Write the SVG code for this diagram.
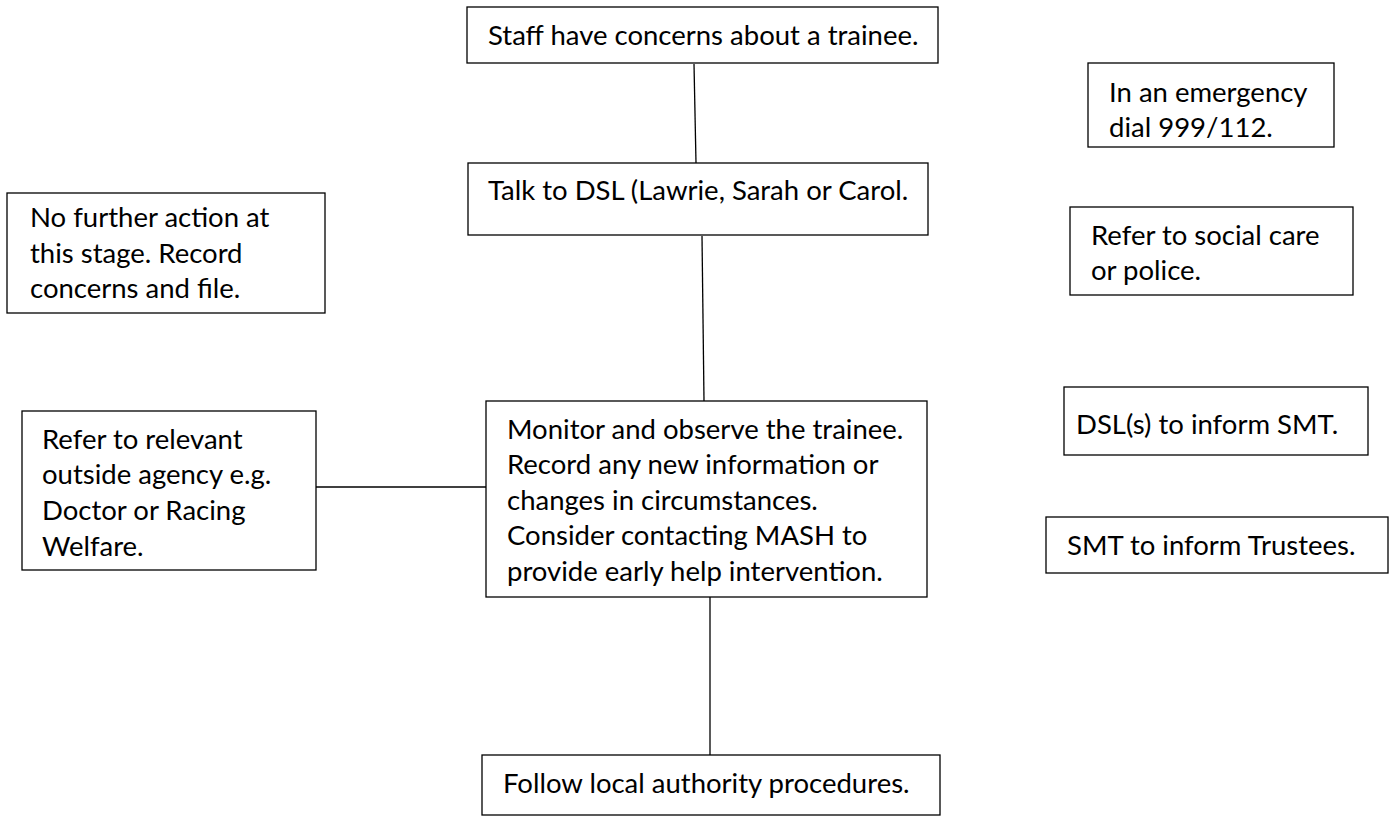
<svg xmlns="http://www.w3.org/2000/svg" width="1395" height="822" viewBox="0 0 1395 822">
<style>
.box{fill:#fff;stroke:#000;stroke-width:1.3}
.t{font-family:Lato,"Open Sans","Liberation Sans",sans-serif;font-size:27.5px;fill:#000}
.c{stroke:#000;stroke-width:1.3;fill:none}
</style>
<rect width="1395" height="822" fill="#fff"/>
<g id="connectors">
<line class="c" x1="694" y1="64" x2="696" y2="163"/>
<line class="c" x1="702" y1="236" x2="704" y2="401"/>
<line class="c" x1="316" y1="487" x2="486" y2="487"/>
<line class="c" x1="710" y1="597" x2="710" y2="755"/>
</g>
<g id="n-staff"><rect class="box" x="467" y="7" width="471" height="56"/><text class="t" x="488" y="45">Staff have concerns about a trainee.</text></g>
<g id="n-talk"><rect class="box" x="468" y="163" width="460" height="72"/><text class="t" x="488" y="200">Talk to DSL (Lawrie, Sarah or Carol.</text></g>
<g id="n-nfa"><rect class="box" x="7" y="193" width="318" height="120"/><text class="t"><tspan x="30" y="227">No further action at</tspan><tspan x="30" y="263">this stage. Record</tspan><tspan x="30" y="298">concerns and file.</tspan></text></g>
<g id="n-emergency"><rect class="box" x="1088" y="63" width="246" height="84"/><text class="t"><tspan x="1109" y="102">In an emergency</tspan><tspan x="1109" y="137">dial 999/112.</tspan></text></g>
<g id="n-social"><rect class="box" x="1070" y="207" width="283" height="88"/><text class="t"><tspan x="1091" y="245">Refer to social care</tspan><tspan x="1091" y="280">or police.</tspan></text></g>
<g id="n-agency"><rect class="box" x="22" y="411" width="294" height="159"/><text class="t"><tspan x="42" y="449">Refer to relevant</tspan><tspan x="42" y="484">outside agency e.g.</tspan><tspan x="42" y="520">Doctor or Racing</tspan><tspan x="42" y="556">Welfare.</tspan></text></g>
<g id="n-monitor"><rect class="box" x="486" y="401" width="441" height="196"/><text class="t"><tspan x="507" y="439">Monitor and observe the trainee.</tspan><tspan x="507" y="474">Record any new information or</tspan><tspan x="507" y="510">changes in circumstances.</tspan><tspan x="507" y="545">Consider contacting MASH to</tspan><tspan x="507" y="581">provide early help intervention.</tspan></text></g>
<g id="n-smt"><rect class="box" x="1064" y="387" width="304" height="68"/><text class="t" x="1076" y="434">DSL(s) to inform SMT.</text></g>
<g id="n-trustees"><rect class="box" x="1046" y="517" width="342" height="56"/><text class="t" x="1067" y="555">SMT to inform Trustees.</text></g>
<g id="n-follow"><rect class="box" x="482" y="755" width="458" height="60"/><text class="t" x="503" y="793">Follow local authority procedures.</text></g>
</svg>
